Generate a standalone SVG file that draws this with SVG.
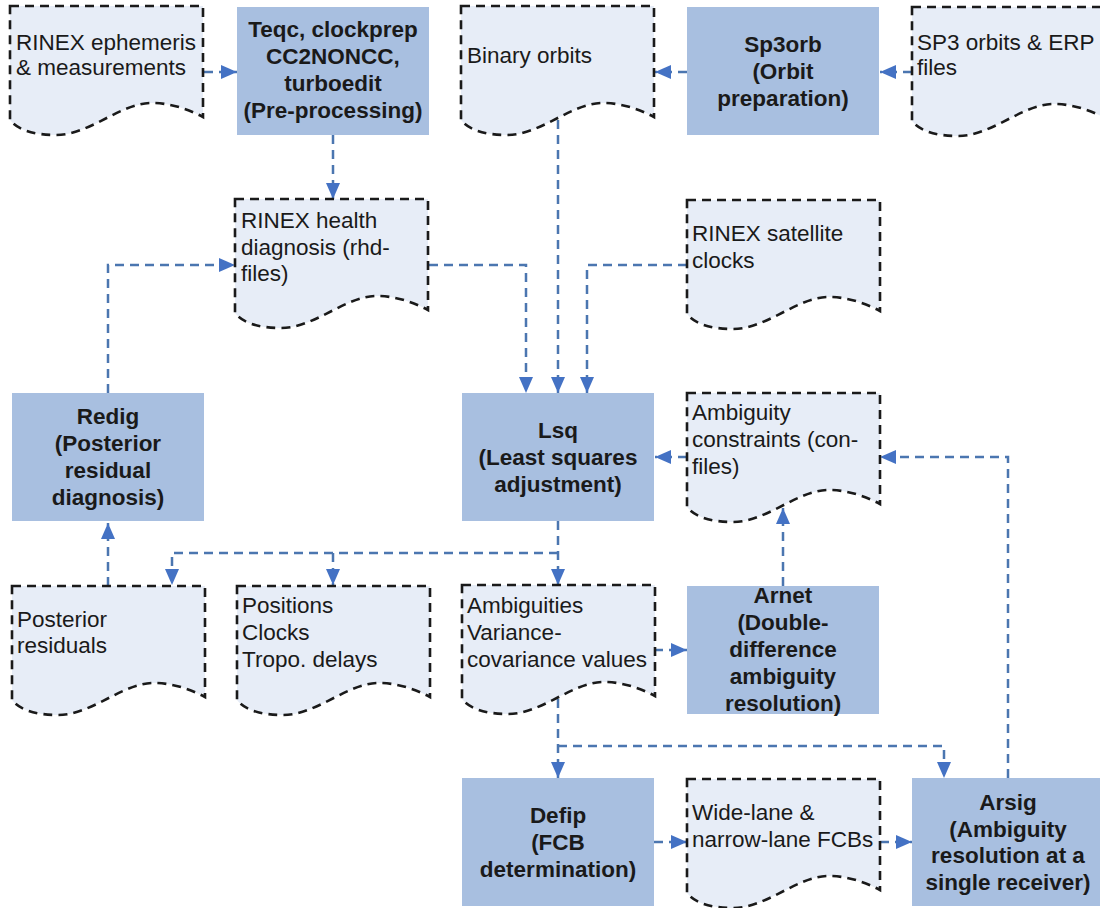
<svg xmlns="http://www.w3.org/2000/svg" width="1100" height="908" viewBox="0 0 1100 908">
<defs>
<style>
.doc{fill:#e7edf7;stroke:#1a1a1a;stroke-width:2.6;stroke-dasharray:9 6}
.box{fill:#a8bfe0}
.t{font-family:"Liberation Sans",Arial,sans-serif;font-size:22.5px;fill:#1a1a1a}
.b{font-family:"Liberation Sans",Arial,sans-serif;font-size:22.5px;font-weight:bold;fill:#1a1a1a;text-anchor:middle}
.c{fill:none;stroke:#4b76b0;stroke-width:2.5;stroke-dasharray:9 6;marker-end:url(#ah)}
</style>
<marker id="ah" markerUnits="userSpaceOnUse" markerWidth="16" markerHeight="14" refX="16" refY="7" orient="auto">
<path d="M0,0 L16,7 L0,14 Z" fill="#4472c4"/>
</marker>
<path id="docshape" d="M0,0 H193 V111 C178,103 160,97 142,97 C110,97 80,129 46,129 C24,129 8,124 0,114 Z"/>
</defs>
<rect width="1100" height="908" fill="#ffffff"/>

<g id="connectors">
<path class="c" d="M204,72 H237"/>
<path class="c" d="M333,135 V199"/>
<path class="c" d="M687,72 H655"/>
<path class="c" d="M912,72 H880"/>
<path class="c" d="M558,120 V393"/>
<path class="c" d="M429,265 H526 V393"/>
<path class="c" d="M687,265 H587 V393"/>
<path class="c" d="M108,393 V265 H235"/>
<path class="c" d="M687,457 H655"/>
<path class="c" d="M1008,778 V457 H880"/>
<path class="c" d="M558,521 V585"/>
<path class="c" d="M558,553 H172 V585"/>
<path class="c" d="M333,553 V585"/>
<path class="c" d="M108,586 V523"/>
<path class="c" d="M654,650 H687"/>
<path class="c" d="M783,586 V508"/>
<path class="c" d="M558,699 V778"/>
<path class="c" d="M558,746 H944 V778"/>
<path class="c" d="M654,842 H687"/>
<path class="c" d="M880,842 H912"/>
</g>

<g id="doc-rinex-eph">
<use href="#docshape" class="doc" x="10" y="6"/>
<text class="t" x="16" y="50">RINEX ephemeris</text>
<text class="t" x="16" y="75">&amp; measurements</text>
</g>
<g id="box-teqc">
<rect class="box" x="237" y="7" width="192" height="128"/>
<text class="b" x="333" y="37">Teqc, clockprep</text>
<text class="b" x="333" y="64">CC2NONCC,</text>
<text class="b" x="333" y="91">turboedit</text>
<text class="b" x="333" y="118">(Pre-processing)</text>
</g>
<g id="doc-binary">
<use href="#docshape" class="doc" x="461" y="6"/>
<text class="t" x="467" y="63">Binary orbits</text>
</g>
<g id="box-sp3orb">
<rect class="box" x="687" y="7" width="192" height="128"/>
<text class="b" x="783" y="52">Sp3orb</text>
<text class="b" x="783" y="79">(Orbit</text>
<text class="b" x="783" y="106">preparation)</text>
</g>
<g id="doc-sp3">
<use href="#docshape" class="doc" x="912" y="7"/>
<text class="t" x="917" y="50">SP3 orbits &amp; ERP</text>
<text class="t" x="917" y="75">files</text>
</g>
<g id="doc-rhd">
<use href="#docshape" class="doc" x="235" y="199"/>
<text class="t" x="241" y="228">RINEX health</text>
<text class="t" x="241" y="255">diagnosis (rhd-</text>
<text class="t" x="241" y="281">files)</text>
</g>
<g id="doc-satclk">
<use href="#docshape" class="doc" x="687" y="200"/>
<text class="t" x="692" y="241">RINEX satellite</text>
<text class="t" x="692" y="268">clocks</text>
</g>
<g id="box-redig">
<rect class="box" x="12" y="393" width="192" height="128"/>
<text class="b" x="108" y="424">Redig</text>
<text class="b" x="108" y="451">(Posterior</text>
<text class="b" x="108" y="478">residual</text>
<text class="b" x="108" y="505">diagnosis)</text>
</g>
<g id="box-lsq">
<rect class="box" x="462" y="393" width="192" height="128"/>
<text class="b" x="558" y="438">Lsq</text>
<text class="b" x="558" y="465">(Least squares</text>
<text class="b" x="558" y="492">adjustment)</text>
</g>
<g id="doc-con">
<use href="#docshape" class="doc" x="687" y="393"/>
<text class="t" x="692" y="420">Ambiguity</text>
<text class="t" x="692" y="447">constraints (con-</text>
<text class="t" x="692" y="474">files)</text>
</g>
<g id="doc-residuals">
<use href="#docshape" class="doc" x="12" y="586"/>
<text class="t" x="17" y="627">Posterior</text>
<text class="t" x="17" y="653">residuals</text>
</g>
<g id="doc-positions">
<use href="#docshape" class="doc" x="237" y="586"/>
<text class="t" x="242" y="613">Positions</text>
<text class="t" x="242" y="640">Clocks</text>
<text class="t" x="242" y="667">Tropo. delays</text>
</g>
<g id="doc-ambiguities">
<use href="#docshape" class="doc" x="462" y="585"/>
<text class="t" x="467" y="613">Ambiguities</text>
<text class="t" x="467" y="640">Variance-</text>
<text class="t" x="467" y="667">covariance values</text>
</g>
<g id="box-arnet">
<rect class="box" x="687" y="586" width="192" height="128"/>
<text class="b" x="783" y="603">Arnet</text>
<text class="b" x="783" y="630">(Double-</text>
<text class="b" x="783" y="657">difference</text>
<text class="b" x="783" y="684">ambiguity</text>
<text class="b" x="783" y="711">resolution)</text>
</g>
<g id="box-defip">
<rect class="box" x="462" y="778" width="192" height="128"/>
<text class="b" x="558" y="823">Defip</text>
<text class="b" x="558" y="850">(FCB</text>
<text class="b" x="558" y="877">determination)</text>
</g>
<g id="doc-fcb">
<use href="#docshape" class="doc" x="687" y="779"/>
<text class="t" x="692" y="820">Wide-lane &amp;</text>
<text class="t" x="692" y="847">narrow-lane FCBs</text>
</g>
<g id="box-arsig">
<rect class="box" x="912" y="778" width="192" height="128"/>
<text class="b" x="1008" y="810">Arsig</text>
<text class="b" x="1008" y="837">(Ambiguity</text>
<text class="b" x="1008" y="863">resolution at a</text>
<text class="b" x="1008" y="890">single receiver)</text>
</g>
</svg>
